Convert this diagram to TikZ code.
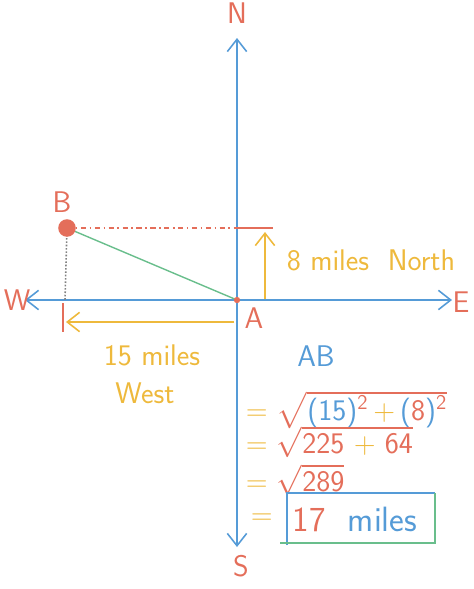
\documentclass[tikz,border=0pt]{standalone}
\usepackage{amsmath}
\usepackage{tikz}
\usetikzlibrary{arrows.meta}
\usetikzlibrary{calc}
\definecolor{axisblue}{RGB}{85,155,215}
\definecolor{penred}{RGB}{228,110,90}
\definecolor{penyellow}{RGB}{238,185,60}
\definecolor{pengreen}{RGB}{105,190,140}
\tikzset{
  hand/.style={font=\sffamily\fontsize{17}{20}\selectfont},
  eqline/.style={font=\sffamily\fontsize{17}{20}\selectfont, anchor=west, inner sep=0pt},
  barb/.style={-{Straight Barb[length=7pt,width=11pt]}},
}

\begin{document}
\begin{tikzpicture}[x=0.2mm,y=-0.2mm,line width=0.9pt]
  \useasboundingbox (0,0) rectangle (474,589);

  \coordinate (A) at (237,300);
  \coordinate (B) at (67,228);
  \coordinate (ntip) at (237,38);
  \coordinate (stip) at (237,547);
  \coordinate (wtip) at (25,300);
  \coordinate (etip) at (452,300);

  \draw[axisblue, barb] (A) -- (ntip);
  \draw[axisblue, barb] (A) -- (stip);
  \draw[axisblue, barb] (A) -- (wtip);
  \draw[axisblue, barb] (A) -- (etip);

  \node[hand, penred] (nlbl) at (237,13) {N};
  \node[hand, penred] (slbl) at (241,566) {S};
  \node[hand, penred] (wlbl) at (17,300) {W};
  \node[hand, penred] (elbl) at (461,302) {E};

  \coordinate (bh) at (237,228);
  \coordinate (bv) at (65,300);
  \draw[penred, dash dot] (B) -- (bh);
  \draw[penred, thick] (bh) -- (273,228);
  \draw[gray, densely dotted] (B) -- (bv);

  \draw[pengreen, thick] (B) -- (A);
  \fill[penred] (B) circle (5pt);
  \fill[penred] (A) circle (1.8pt);
  \node[hand, penred] (blbl) at (62,202) {B};
  \node[hand, penred] (albl) at (254,318) {A};

  \coordinate (up0) at (265,299);
  \coordinate (up1) at (265,232);
  \draw[penyellow, barb] (up0) -- (up1);
  \node[hand, penyellow] (north) at (371,260) {8 miles\ \ North};

  \coordinate (we0) at (234,322);
  \coordinate (we1) at (66,322);
  \draw[penyellow, barb] (we0) -- (we1);
  \draw[penred] (63,303) -- (63,332);
  \node[hand, penyellow] (miles) at (152,355) {15 miles};
  \node[hand, penyellow] (west) at (145,393) {West};

  \node[hand, axisblue, inner sep=0pt] (ab) at (316,356) {AB};
  \node[eqline] (eq1) at (245,410)
    {\color{penyellow}= \color{penred}$\sqrt{\text{\color{axisblue}(15)\textsuperscript{\color{penred}2}\,\color{penyellow}+\,\color{axisblue}(\color{penred}8\color{axisblue})\textsuperscript{\color{penred}2}}}$};
  \node[eqline] (eq2) at (245,442)
    {\color{penyellow}= \color{penred}$\sqrt{\text{225 \color{penyellow}+ \color{penred}64}}$};
  \node[eqline] (eq3) at (245,480)
    {\color{penyellow}= \color{penred}$\sqrt{\text{289}}$};
  \node[eqline] (eq4) at (250,519)
    {\color{penyellow}=};
  \node[font=\sffamily\fontsize{20}{24}\selectfont, anchor=west, inner sep=0pt] (res) at (292,519)
    {\color{penred}17\ \ \color{axisblue}miles};

  \draw[axisblue] (287,545) -- (287,493) -- (435,493);
  \draw[pengreen] (280,543) -- (435,543) -- (435,493);
\end{tikzpicture}
\end{document}
